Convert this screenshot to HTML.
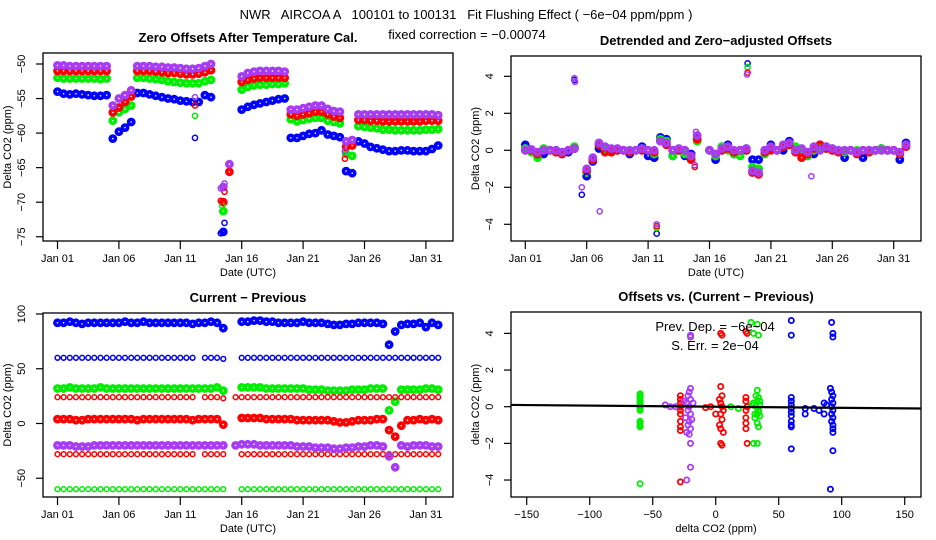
<!DOCTYPE html>
<html><head><meta charset="utf-8"><style>
html,body{margin:0;padding:0;background:#fff;}
svg{display:block;font-family:"Liberation Sans",sans-serif;}
</style></head><body>
<svg id="chart" width="936" height="540" viewBox="0 0 936 540">
<rect x="0" y="0" width="936" height="540" fill="#fff"/>
<text x="466" y="19" text-anchor="middle" font-size="13" xml:space="preserve">NWR   AIRCOA A   100101 to 100131   Fit Flushing Effect ( −6e−04 ppm/ppm )</text>
<text x="467" y="39" text-anchor="middle" font-size="13">fixed correction = −0.00074</text>
<g id="layer"></g>
</svg>
<script>
const NS="http://www.w3.org/2000/svg";
const layer=document.getElementById('layer');
// ---- shared time axis (days since Jan 01) ----
const days=[0,0.5,1,1.5,2,2.5,3,3.5,4,4.5,5,5.5,6,6.5,7,7.5,8,8.5,9,9.5,10,10.5,11,11.5,12,12.5,13,13.5,14,14.5,15,15.5,16,16.5,17,17.5,18,18.5,19,19.5,20,20.5,21,21.5,22,22.5,23,23.5,24,24.5,25,25.5,26,26.5,27,27.5,28,28.5,29,29.5,30,30.5,31];
const dateTicks=[0,5,10,15,20,25,30];
const dateTickLabels=["Jan 01","Jan 06","Jan 11","Jan 16","Jan 21","Jan 26","Jan 31"];
// ---- panel 1: zero offsets ----
const p1Purple=[-50.2,-50.2,-50.3,-50.3,-50.3,-50.3,-50.3,-50.3,-50.3,-56,-55,-54.5,-53.8,-50.3,-50.3,-50.3,-50.4,-50.4,-50.5,-50.5,-50.6,-50.7,-50.7,-50.6,-50.3,-50.0,null,-67.8,-64.5,null,-51.8,-51.3,-51.1,-51,-51,-51,-51,-51.1,-56.6,-56.6,-56.4,-56.2,-56,-56,-56.5,-56.8,-56.9,-61.2,-61,-57.3,-57.3,-57.3,-57.3,-57.3,-57.3,-57.3,-57.3,-57.3,-57.3,-57.3,-57.3,-57.3,-57.4];
const p1Red=[-51,-51,-51,-51,-51,-51,-51,-51,-51,-57,-56.3,-55.5,-54.7,-51,-51,-51,-51.1,-51.2,-51.3,-51.3,-51.4,-51.5,-51.5,-51.4,-51.2,-50.9,null,-70,-65.6,null,-52.6,-52.3,-52.1,-52,-52,-52,-52,-52,-57.3,-57.5,-57.3,-57.1,-56.9,-56.9,-57.3,-57.6,-57.8,-62,-61.8,-58.1,-58.1,-58.2,-58.2,-58.3,-58.3,-58.3,-58.3,-58.3,-58.3,-58.3,-58.2,-58.2,-58.2];
const p1Green=[-52,-52.1,-52.1,-52.1,-52.1,-52.1,-52.1,-52.2,-52.1,-58.2,-57,-56.5,-56,-52,-52,-52.1,-52.2,-52.3,-52.5,-52.6,-52.7,-52.8,-52.8,-52.8,-52.5,-52.3,null,-71.3,null,null,-53.7,-53.3,-53.1,-53,-53,-52.9,-52.9,-52.8,-58,-58.3,-58.1,-57.9,-57.8,-57.8,-58.2,-58.4,-58.6,-63,-63.3,-59,-59.1,-59.2,-59.3,-59.5,-59.5,-59.6,-59.6,-59.6,-59.6,-59.6,-59.5,-59.5,-59.4];
const p1Blue=[-54,-54.3,-54.4,-54.3,-54.4,-54.5,-54.6,-54.6,-54.5,-60.8,-59.8,-59.2,-58.4,-54.2,-54.2,-54.4,-54.6,-54.8,-55,-55.1,-55.3,-55.4,-55.5,-55.5,-54.5,-54.8,null,-74.3,null,null,-56.6,-56.2,-55.9,-55.7,-55.5,-55.3,-55.1,-55,-60.7,-60.7,-60.4,-60.1,-60,-59.6,-60.2,-60.4,-60.6,-65.5,-65.8,-61.2,-61.5,-62,-62.2,-62.4,-62.6,-62.6,-62.5,-62.5,-62.6,-62.6,-62.6,-62.3,-61.8];
const p1OutDays=[11.2,13.3,13.6,11.2,13.4,11.2,13.3,13.6,23.4,11.2,13.3,13.6,23.4];
const p1OutVals=[-60.7,-74.5,-73,-57.5,-70.5,-56,-69.8,-68.5,-63.7,-54.8,-68,-67.3,-62.6];
const p1OutColors=["b","b","b","g","g","r","r","r","r","p","p","p","p"];
const p1YTicks=[-75,-70,-65,-60,-55,-50];
// ---- panel 2: detrended ----
const p2Purple=[0,0.05,-0.1,0,0,0,-0.1,0,0.1,null,-1.0,-0.4,0.4,0.2,0.1,0.1,0,0,0,0.1,0,0,0.5,0.4,0,0.1,0,-0.3,0.8,null,0,-0.2,0.1,0.2,0,0,0.1,-1.1,-1.2,0,0.2,0,0.3,0.4,0,0.1,-0.1,0.2,0,0.2,0.1,0,0,0,-0.1,0,0,0,0,0,0,-0.1,0.3];
const p2Red=[0,0,-0.2,0,0,-0.1,-0.2,0,0.1,null,-1.1,-0.5,0.3,-0.1,-0.1,0,0,-0.1,0,0,0,-0.1,0.5,0.3,0,0,0,-0.5,0.6,null,0,-0.2,0,0.1,-0.1,0,0,-1.2,-1.3,-0.1,0,0,0.2,0.3,-0.1,-0.4,-0.2,0.1,0.3,0.1,0,-0.1,0,0,-0.2,0,-0.1,0,0,0,0,-0.2,0.2];
const p2Green=[0.1,-0.1,-0.4,0.1,0,0,-0.1,0,0.2,null,-1.2,-0.5,0.3,0,-0.1,0,0,0,0,0.1,0,-0.2,0.6,0.5,-0.3,0,-0.2,-0.4,0.5,null,0,-0.3,0.2,0,-0.2,-0.3,0.1,-0.9,-1.0,-0.2,0.1,0,0.2,0.3,0.2,0,-0.3,0,0.2,0.1,0.1,0,-0.1,0,0,0,-0.1,0,0.1,0,0,-0.2,0.3];
const p2Blue=[0.3,0,-0.3,-0.2,0,0,-0.2,-0.1,0.1,null,-1.4,-0.6,0.1,0.1,0,0,0,-0.2,0,0.2,-0.3,-0.4,0.7,0.6,-0.3,0,-0.3,-0.2,0.6,null,0,-0.5,0,0.3,-0.2,0,0,-0.5,-0.5,0,0.3,0,0,0.5,0,0,-0.3,-0.2,0.3,0.2,0,0,-0.4,0,-0.1,-0.4,0,0,0.1,0,0,-0.5,0.4];
const p2OutDays=[4.0,4.6,10.7,18.1,5.0,18.1,10.7,18.1,10.7,13.8,4.0,4.05,4.6,6.06,10.7,13.9,13.8,18.05,23.3];
const p2OutVals=[3.8,-2.4,-4.5,4.7,-1.4,4.5,-4.2,4.2,-4.1,-0.9,3.9,3.7,-2.0,-3.3,-4.0,1.0,-0.8,4.1,-1.4];
const p2OutColors=["b","b","b","b","b","g","g","r","r","r","p","p","p","p","p","p","p","p","p"];
const p2YTicks=[-4,-2,0,2,4];
// ---- panel 3: current - previous ----
const p3BlueHi=[92,92,93,92,91,92,92,92,92,92,92,93,92,92,93,92,92,92,92,92,92,92,91,92,92,93,92,87,null,null,93,93,94,94,93,93,92,92,92,92,93,92,92,92,91,90,90,91,91,92,92,92,92,91,72,84,90,91,91,92,88,92,90];
const p3Blue60=[60,60,60,60,60,60,60,60,60,60,60,60,60,60,60,60,60,60,60,60,60,60,60,null,60,60,60,59,null,null,60,60,60,60,60,60,60,60,60,60,60,60,60,60,60,60,60,60,60,60,60,60,60,60,60,60,60,60,60,60,60,60,60];
const p3Green32=[32,32,33,32,32,32,32,33,32,32,32,32,32,32,32,32,32,32,32,32,32,32,32,32,32,32,33,30,null,null,33,33,33,33,32,32,32,32,32,32,32,31,31,31,30,30,30,30,31,31,31,32,32,32,12,20,31,31,31,31,32,32,31];
const p3Red24=[24,24,24,24,24,24,24,24,24,24,24,24,24,24,24,24,24,24,24,24,24,24,24,null,24,24,24,23,null,24,24,24,24,24,24,24,24,24,24,24,24,24,24,24,24,24,24,24,24,24,24,24,24,24,24,24,24,24,24,24,24,24,24];
const p3Red4=[4,4,4,3,3,4,4,4,4,4,4,4,4,3,4,4,4,4,4,4,4,4,3,4,4,4,4,-1,null,null,5,5,5,5,4,4,4,4,4,3,3,3,3,3,3,2,1,1,2,3,3,3,4,4,-6,-12,-2,3,3,4,3,4,3];
const p3Purple=[-20,-20,-20,-21,-21,-21,-20,-20,-20,-20,-20,-20,-20,-20,-20,-20,-20,-20,-20,-20,-20,-20,-20,-20,-20,-20,-20,-20,null,-20,-19,-19,-19,-20,-20,-20,-20,-20,-20,-21,-21,-21,-22,-22,-22,-23,-23,-22,-22,-21,-21,-20,-20,-21,-30,-40,-20,-21,-20,-20,-20,-21,-21];
const p3RedNeg28=[-28,-28,-28,-28,-28,-28,-28,-28,-28,-28,-28,-28,-28,-28,-28,-28,-28,-28,-28,-28,-28,-28,-28,null,-28,-28,-28,-28,null,null,-28,-28,-28,-28,-28,-28,-28,-28,-28,-28,-28,-28,-28,-28,-28,-28,-28,-28,-28,-28,-28,-28,-28,-28,-28,-28,-28,-28,-28,-28,-28,-28,-28];
const p3GreenNeg60=[-60,-60,-60,-60,-60,-60,-60,-60,-60,-60,-60,-60,-60,-60,-60,-60,-60,-60,-60,-60,-60,-60,-60,-60,-60,-60,-60,-60,null,null,-60,-60,-60,-60,-60,-60,-60,-60,-60,-60,-60,-60,-60,-60,-60,-60,-60,-60,-60,-60,-60,-60,-60,-60,-60,-60,-60,-60,-60,-60,-60,-60,-60];
const p3YTicks=[-50,0,50,100];
// ---- panel 4: offsets vs current - previous ----
const p4GreenX=[-60,-60,-60,-60,-60,-60,-60,-60,-60,-60,-60,-60,-60,-60,-60,12,18,28,30,33,34,32,33,34,35,30,32,34,33,35,31,33,34,30,33,29,33,34,35,31];
const p4GreenY=[0.7,0.6,0.5,0.4,0.3,0.2,0.1,0,-0.1,-0.2,-0.8,-0.9,-1,-1.1,-4.2,0,-0.1,4.6,4.0,4.5,3.9,0.6,0.9,0.5,0.3,0.2,0,-0.2,-0.4,-0.5,-0.6,-0.9,-1.1,-2.0,-2.0,0.1,0.3,-0.3,0.1,-0.4];
const p4RedX=[-28,-28,-28,-28,-28,-28,-28,-28,-28,-28,-8,-4,0,4,5,4,5,3,4,5,6,4,5,3,4,6,4,5,24,25,24,24,25,24,24,24,24,25];
const p4RedY=[0.6,0.4,0.2,0,-0.2,-0.4,-0.8,-1.1,-1.3,-4.1,-0.05,0,-0.4,4.0,3.9,1.1,0.6,0.4,0.2,0,-0.2,-0.4,-0.7,-1.0,-1.2,-1.4,-2.0,-2.1,4.1,4.0,0.5,0.3,0,-0.2,-0.6,-0.9,-1.2,-2.0];
const p4PurpleX=[-20,-21,-22,-20,-23,-21,-22,-20,-24,-21,-22,-20,-23,-21,-20,-20,-23,-20,-20,-40,-36,-32,-25,-19,-18];
const p4PurpleY=[1.0,0.8,0.6,0.4,0.2,0,-0.2,-0.4,-0.6,-0.8,-1.0,-1.2,-1.4,-1.5,-2.0,-3.3,-4.0,3.9,3.8,0.1,0,0,0.3,-0.7,0.2];
const p4BlueX=[60,60,60,60,60,60,60,60,60,60,60,60,92,93,93,91,92,93,92,93,92,93,92,93,92,93,93,93,93,91,71,71,78,82,86,86,88];
const p4BlueY=[4.7,3.9,0.5,0.3,0.1,-0.1,-0.3,-0.5,-0.8,-1.0,-1.1,-2.3,4.6,4.0,3.8,1.0,0.8,0.6,0.4,0.2,0,-0.2,-0.4,-0.6,-0.8,-1,-1.2,-1.4,-2.4,-4.5,-0.1,-0.4,-0.1,-0.2,0.2,-0.4,0.1];
const p4Slope=-0.0006;
const p4Intercept=0.0;
const p4XTicks=[-150,-100,-50,0,50,100,150];
const p4YTicks=[-4,-2,0,2,4];

const COLORS={b:"#0000ff",g:"#00ee00",r:"#ff0000",p:"#a83cf5"};

// ---- scales ----
const p1x=d=>57.5+d*12.28, p1y=v=>64+(-50-v)*6.91;
const p2x=d=>525.3+d*12.28, p2y=v=>150.3-v*18.5;
const p3x=d=>57.5+d*12.28, p3y=v=>423.5-v*1.095;
const p4x=v=>715.7+v*1.26, p4y=v=>406.7-v*18.33;

function el(tag,parent){const e=document.createElementNS(NS,tag);parent.appendChild(e);return e;}
function group(name){const g=el('g',layer);


return g;}
function dot(g,x,y,r,color,sw,name){
const c=el('circle',g);
c.setAttribute('cx',x.toFixed(1));c.setAttribute('cy',y.toFixed(1));c.setAttribute('r',r);
c.setAttribute('fill','none');c.setAttribute('stroke',color);c.setAttribute('stroke-width',sw);


}
function txt(g,x,y,s,size,name,opts){
const t=el('text',g);t.textContent=s;t.setAttribute('x',x);t.setAttribute('y',y);
t.setAttribute('font-size',size);t.setAttribute('text-anchor','middle');
if(opts&&opts.bold)t.setAttribute('font-weight','bold');
if(opts&&opts.rot)t.setAttribute('transform','rotate(-90 '+x+' '+y+')');


return t;}
function line(g,x1,y1,x2,y2,w,name){
const l=el('line',g);l.setAttribute('x1',x1);l.setAttribute('y1',y1);l.setAttribute('x2',x2);l.setAttribute('y2',y2);
l.setAttribute('stroke','#000');l.setAttribute('stroke-width',w||1);

}

function frame(name,box,title,xTicks,xLabels,xs,yTicks,ys,xTitle,yTitle){
const g=group(name+'-axes');
const r=el('rect',g);r.setAttribute('x',box[0]);r.setAttribute('y',box[1]);r.setAttribute('width',box[2]-box[0]);r.setAttribute('height',box[3]-box[1]);
r.setAttribute('fill','none');r.setAttribute('stroke','#000');r.setAttribute('stroke-width',1.3);


txt(g,(box[0]+box[2])/2,box[1]-11,title,13,name+'-title',{bold:true});
xTicks.forEach((t,i)=>{const x=xs(t);line(g,x,box[3],x,box[3]+8,1.2,name+'-x-tick');
txt(g,x,box[3]+21,xLabels[i],11,name+'-x-tick-label');});
yTicks.forEach(t=>{const y=ys(t);line(g,box[0],y,box[0]-7,y,1.2,name+'-y-tick');
txt(g,box[0]-18,y,String(t).replace('-','−'),11,name+'-y-tick-label',{rot:true});});
if(xTitle)txt(g,(box[0]+box[2])/2,box[3]+35,xTitle,11,name+'-x-axis-title');
txt(g,box[0]-32,(box[1]+box[3])/2,yTitle,11,name+'-y-axis-title',{rot:true});
}
function series(name,vals,xs,ys,color,r,sw){
const g=group(name);
vals.forEach((v,i)=>{if(v===null)return;dot(g,xs(days[i]),ys(v),r,color,sw,name+'-point');});
}
function outliers(name,dArr,vArr,cArr,xs,ys,r,sw){
const g=group(name);
dArr.forEach((d,i)=>dot(g,xs(d),ys(vArr[i]),r,COLORS[cArr[i]],sw,name+'-point'));
}
const DR=2.6, DW=3.6;

// Panel 1
frame('zero-offsets',[43,53,453,241],'Zero Offsets After Temperature Cal.',dateTicks,dateTickLabels,p1x,p1YTicks,p1y,'Date (UTC)','Delta CO2 (ppm)');
series('p1-blue',p1Blue,p1x,p1y,COLORS.b,DR,DW);
series('p1-green',p1Green,p1x,p1y,COLORS.g,DR,DW);
series('p1-red',p1Red,p1x,p1y,COLORS.r,DR,DW);
series('p1-purple',p1Purple,p1x,p1y,COLORS.p,DR,DW);
outliers('p1-outliers',p1OutDays,p1OutVals,p1OutColors,p1x,p1y,2.6,1.5);

// Panel 2
frame('detrended',[511,56,921,241],'Detrended and Zero−adjusted Offsets',dateTicks,dateTickLabels,p2x,p2YTicks,p2y,'Date (UTC)','Delta CO2 (ppm)');
series('p2-blue',p2Blue,p2x,p2y,COLORS.b,DR,DW);
series('p2-green',p2Green,p2x,p2y,COLORS.g,DR,DW);
series('p2-red',p2Red,p2x,p2y,COLORS.r,DR,DW);
series('p2-purple',p2Purple,p2x,p2y,COLORS.p,DR,DW);
outliers('p2-outliers',p2OutDays,p2OutVals,p2OutColors,p2x,p2y,2.6,1.5);

// Panel 3
frame('current-previous',[43,313,453,497],'Current − Previous',dateTicks,dateTickLabels,p3x,p3YTicks,p3y,'Date (UTC)','Delta CO2 (ppm)');
series('p3-blue-high',p3BlueHi,p3x,p3y,COLORS.b,DR,DW);
series('p3-blue-60',p3Blue60,p3x,p3y,COLORS.b,2.4,1.5);
series('p3-green-32',p3Green32,p3x,p3y,COLORS.g,DR,DW);
series('p3-red-24',p3Red24,p3x,p3y,COLORS.r,2.4,1.5);
series('p3-red-4',p3Red4,p3x,p3y,COLORS.r,DR,DW);
series('p3-red-neg28',p3RedNeg28,p3x,p3y,COLORS.r,2.4,1.5);
series('p3-purple',p3Purple,p3x,p3y,COLORS.p,DR,DW);
series('p3-green-neg60',p3GreenNeg60,p3x,p3y,COLORS.g,2.4,1.5);

// Panel 4
frame('offsets-vs-diff',[511,312,921,497],'Offsets vs. (Current − Previous)',p4XTicks,p4XTicks.map(t=>String(t).replace('-','−')),p4x,p4YTicks,p4y,'delta CO2 (ppm)','delta CO2 (ppm)');
(function(){
const g=group('p4-scatter');
const sets=[[p4RedX,p4RedY,'r','red'],[p4GreenX,p4GreenY,'g','green'],[p4BlueX,p4BlueY,'b','blue'],[p4PurpleX,p4PurpleY,'p','purple']];
sets.forEach(s=>s[0].forEach((x,i)=>dot(g,p4x(x),p4y(s[1][i]),2.6,COLORS[s[2]],1.8,'p4-'+s[3]+'-point')));
const fit=el('line',g);
fit.setAttribute('x1',511);fit.setAttribute('y1',p4y(p4Intercept+p4Slope*((511-715.7)/1.26)));
fit.setAttribute('x2',921);fit.setAttribute('y2',p4y(p4Intercept+p4Slope*((921-715.7)/1.26)));
fit.setAttribute('stroke','#000');fit.setAttribute('stroke-width',2.2);


txt(g,715,331,'Prev. Dep. =  −6e−04',13,'prev-dep-annotation').setAttribute('xml:space','preserve');
txt(g,715,350,'S. Err. =  2e−04',13,'std-err-annotation');
})();
</script>
</body></html>
